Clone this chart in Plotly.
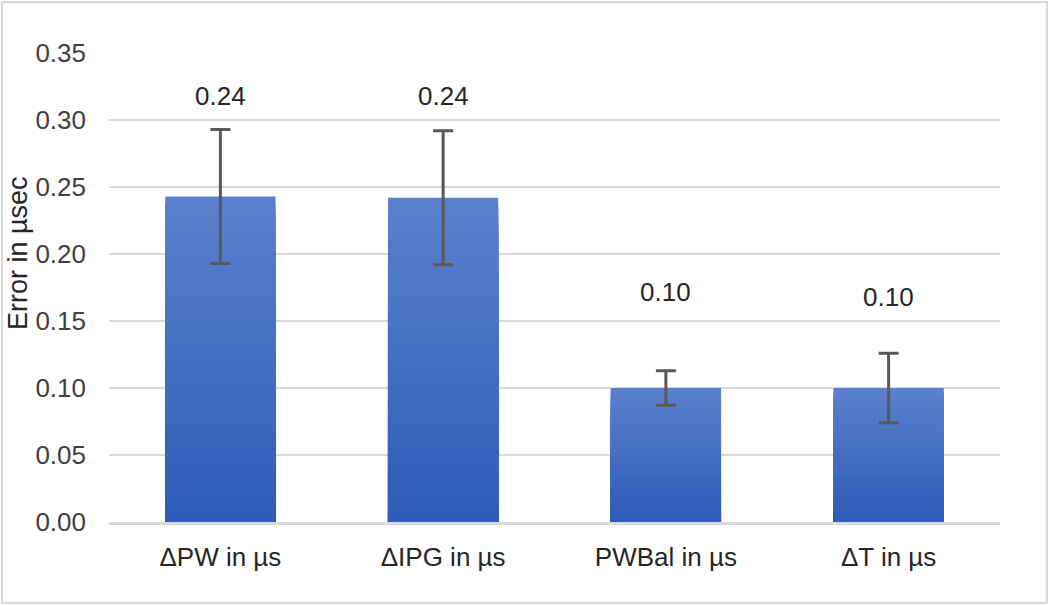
import plotly.graph_objects as go

categories = ["ΔPW in µs", "ΔIPG in µs", "PWBal in µs", "ΔT in µs"]
values = [0.243, 0.242, 0.100, 0.100]
errors = [0.050, 0.050, 0.0128, 0.026]
value_labels = ["0.24", "0.24", "0.10", "0.10"]
label_y = [0.318, 0.318, 0.172, 0.168]
y_ticks = [0.00, 0.05, 0.10, 0.15, 0.20, 0.25, 0.30, 0.35]

W, H = 1050, 606
L, R, T, B = 109, 50, 53, 84
pw, ph = W - L - R, H - T - B

top_rgb = (0x5B, 0x80, 0xCD)
bot_rgb = (0x2D, 0x5D, 0xB7)
N = 40

fig = go.Figure()
for k in range(N):
    f = k / (N - 1)
    c = tuple(round(top_rgb[i] + (bot_rgb[i] - top_rgb[i]) * f) for i in range(3))
    frac = 1 - k / N
    fig.add_trace(go.Bar(
        x=categories,
        y=[v * frac for v in values],
        marker=dict(color="rgb(%d,%d,%d)" % c, line=dict(width=0)),
        hoverinfo="skip",
        showlegend=False,
    ))

# error bars drawn on top of the bars
fig.add_trace(go.Scatter(x=categories, y=values, mode="markers",
                         marker=dict(size=1, color="rgba(0,0,0,0)"),
                         error_y=dict(type="data", array=errors, visible=True,
                                      color="#595959", thickness=3, width=10),
                         showlegend=False, hoverinfo="skip"))

for cat, lab, ly in zip(categories, value_labels, label_y):
    fig.add_annotation(x=cat, y=ly, text=lab, showarrow=False,
                       xanchor="center", yanchor="middle",
                       font=dict(family="Liberation Sans, Arial", size=26, color="#262626"))

fig.add_annotation(xref="paper", yref="paper", x=(18 - L) / pw, y=(H - B - 253) / ph,
                   xanchor="center", yanchor="middle",
                   text="Error in µsec", textangle=-90, showarrow=False,
                   font=dict(family="Liberation Sans, Arial", size=27, color="#262626"))

fig.add_shape(type="rect", xref="paper", yref="paper",
              x0=(2 - L) / pw, x1=(1047 - L) / pw,
              y0=(H - B - 603) / ph, y1=(H - B - 2) / ph,
              line=dict(color="#D9D9D9", width=2), fillcolor="rgba(0,0,0,0)", layer="below")

fig.update_layout(
    width=W, height=H,
    margin=dict(l=L, r=R, t=T, b=B),
    barmode="overlay",
    bargap=0.505,
    plot_bgcolor="white",
    paper_bgcolor="white",
    font=dict(family="Liberation Sans, Arial", size=26, color="#404040"),
    xaxis=dict(showgrid=False, showline=True, linecolor="#D9D9D9", linewidth=3,
               ticks="", ticklabelstandoff=10,
               tickfont=dict(size=26, color="#262626")),
    yaxis=dict(range=[0, 0.35], tickvals=y_ticks, tickformat=".2f",
               showgrid=True, gridcolor="#D9D9D9", gridwidth=2,
               zeroline=False, showline=False, ticks="",
               ticklabelstandoff=22,
               tickfont=dict(size=26, color="#404040")),
)

fig.write_html("out.html", config={"displayModeBar": False},
               post_script="document.body.style.margin='0';document.body.style.overflow='hidden';")
